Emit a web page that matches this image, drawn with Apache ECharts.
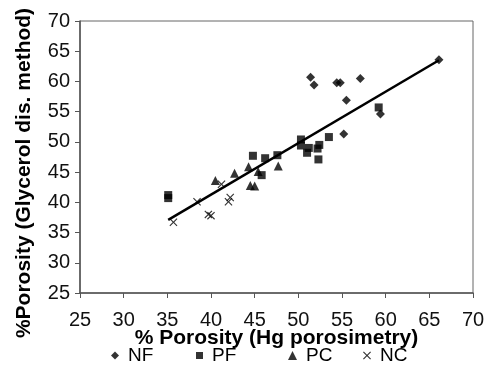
<!DOCTYPE html>
<html><head><meta charset="utf-8">
<script src="https://cdn.jsdelivr.net/npm/echarts@6/dist/echarts.min.js"></script>
<style>html,body{margin:0;padding:0;background:#fff}#c{width:486px;height:383px}</style>
</head><body><div id="c"></div>
<script>
const xTicks = [25,30,35,40,45,50,55,60,65,70];
const yTicks = [25,30,35,40,45,50,55,60,65,70];
const seriesNames = ['NF','PF','PC','NC'];
const nfData = [[51.4,60.7],[51.8,59.4],[54.4,59.8],[54.8,59.8],[57.1,60.5],[55.5,56.9],[55.2,51.3],[59.4,54.6],[66.1,63.6]];
const pfData = [[35.1,41.2],[35.1,40.7],[44.8,47.7],[46.2,47.3],[47.6,47.8],[45.8,44.5],[50.3,50.4],[50.3,49.4],[51.0,48.2],[51.2,49.0],[52.4,49.5],[52.2,48.9],[52.3,47.1],[53.5,50.8],[59.2,55.7]];
const pcData = [[40.5,43.6],[42.7,44.8],[44.3,45.9],[45.4,45.1],[44.5,42.8],[45.0,42.7],[47.7,46.0]];
const ncData = [[35.7,36.7],[38.4,40.1],[39.7,38.0],[40.0,37.8],[41.2,43.0],[42.0,40.1],[42.2,40.8]];
const trendData = [[35.1,37.1],[66.1,63.5]];

const crossPath = 'path://M0,1L1,0L5,4L9,0L10,1L6,5L10,9L9,10L5,6L1,10L0,9L4,5Z';
const symbols = ['diamond','rect','triangle',crossPath];
const sizes = [9,8,9,8];
const legendSizes = [8,7,9,8];
const datas = [nfData,pfData,pcData,ncData];
const legendLefts = [106,191,283,358];
const F = 'Arial, "Liberation Sans", Helvetica, sans-serif';

const chart = echarts.init(document.getElementById('c'));
const series = seriesNames.map((n,i)=>({
  name:n, type:'scatter', data:datas[i], symbol:symbols[i], symbolSize:sizes[i],
  itemStyle:{color:'#000'}, z:3
}));
series.push({type:'line', data:trendData, symbol:'none', lineStyle:{color:'#000',width:2.5}, z:2, silent:true});

chart.setOption({
  animation:false,
  grid:{left:80,right:13,top:21,bottom:90,show:true,borderColor:'#666',borderWidth:1,outerBoundsMode:'none',containLabel:false},
  legend: seriesNames.map((n,i)=>({
    data:[{name:n, icon:symbols[i]}], left:legendLefts[i], top:341, itemWidth:legendSizes[i], itemHeight:legendSizes[i],
    textStyle:{fontFamily:F,fontSize:19,color:'#000',padding:[0,0,0,4]}, itemStyle:{color:'#000'}
  })),
  xAxis:{type:'value',min:25,max:70,interval:5,
    name:'% Porosity (Hg porosimetry)',nameLocation:'middle',nameGap:35,nameMoveOverlap:false,
    nameTextStyle:{fontFamily:F,fontSize:21,fontWeight:'bold',color:'#000'},
    axisLine:{lineStyle:{color:'#555',width:1.5}},axisTick:{show:true,length:5,lineStyle:{color:'#555'}},
    axisLabel:{fontFamily:F,fontSize:20,color:'#111',margin:17,formatter:v=>xTicks.includes(v)?String(v):''},
    splitLine:{show:false}},
  yAxis:{type:'value',min:25,max:70,interval:5,
    name:'%Porosity (Glycerol dis. method)',nameLocation:'middle',nameGap:45,nameMoveOverlap:false,
    nameTextStyle:{fontFamily:F,fontSize:21,fontWeight:'bold',color:'#000',padding:[0,32,0,0]},
    axisLine:{show:true,lineStyle:{color:'#555',width:1.5}},axisTick:{show:true,length:5,lineStyle:{color:'#555'}},
    axisLabel:{fontFamily:F,fontSize:20,color:'#111',margin:10,formatter:v=>yTicks.includes(v)?String(v):''},
    splitLine:{show:false}},
  series:series
});
</script></body></html>
